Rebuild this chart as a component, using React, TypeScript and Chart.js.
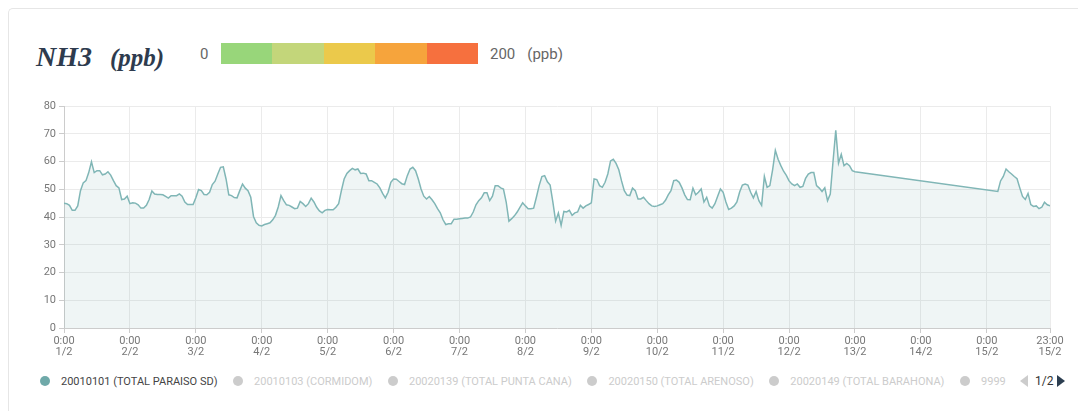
import React, { useEffect, useRef } from 'react';
import { Chart, registerables } from 'chart.js';
Chart.register(...registerables);

// Hourly NH3 values (ppb), hour index 0 = 1/2 0:00
const START_A = 0;
const VALUES_A = [
  45, 44.8, 44.2, 42.4, 42.4, 44, 49.5, 52.3, 53.1, 56, 59.9, 56, 56.7, 56.7, 55.2, 55.5, 56.3, 55.1, 53.1, 51.3, 50.5, 46.3, 46.5, 47.5,
  44.8, 45.1, 45, 44.4, 43.2, 43.2, 44.2, 46.3, 49.4, 48.3, 48.1, 48.1, 48, 47.4, 46.8, 47.7, 47.7, 47.7, 48.3, 47.5, 45.4, 44.5, 44.5, 44.5,
  46.9, 49.9, 49.5, 48.1, 48, 48.9, 51.7, 52.9, 55.5, 57.9, 58.1, 53.7, 48, 47.7, 47, 46.9, 49.5, 51.9, 50.4, 49.5, 47.1, 40.2, 37.9, 37,
  36.8, 37.3, 37.6, 37.9, 39, 40.6, 43.6, 47.7, 45.9, 44.4, 44.2, 43.6, 43, 43.2, 45.6, 44.8, 43.8, 44.8, 46.8, 45.4, 43.5, 42.2, 41.5, 42.4,
  42.7, 42.6, 42.6, 43.5, 44.8, 49.5, 53.7, 55.7, 56.7, 57.5, 57, 57.3, 55.7, 55.8, 55.5, 53.1, 53.1, 52.5, 51.9, 50.5, 48.5, 46.9, 48.9, 52.5,
  53.7, 53.6, 52.8, 52, 51.7, 54.9, 57.3, 57.9, 56.7, 53.7, 50.1, 47.5, 46.5, 47.4, 46.2, 44.8, 43, 41.5, 39, 37.3, 37.6, 37.6, 39.2, 39.2,
  39.4, 39.5, 39.6, 39.6, 40, 41.8, 44.4, 45.9, 46.9, 48.7, 48.7, 45.9, 47.5, 51.3, 51.3, 50.5, 50.1, 45.4, 38.5, 39.4, 40.4, 41.8, 43.5, 45.1,
  44, 43, 43, 43.2, 47.1, 51.3, 54.6, 54.9, 52.7, 51.5, 45.4, 38.5, 41.4, 37, 42, 41.8, 42.4, 40.6, 41.5, 41.8, 44.2, 43.2, 44, 44.5,
  45.1, 53.7, 53.5, 51.3, 50.7, 52.5, 55.5, 60.2, 60.8, 59.3, 57, 53, 49.5, 47.9, 47.7, 50.4, 49.5, 46.5, 46.5, 47.1, 45.9, 44.8, 44, 43.8,
  44, 44.4, 44.8, 46, 48, 49.5, 53.1, 53.3, 52.5, 50.5, 48, 46.3, 46.2, 50.4, 48, 48.9, 50.1, 45.4, 47.1, 44, 43.2, 44.8, 47.5, 50.1,
  48.9, 45.4, 42.7, 43.2, 44, 45.4, 49, 51.5, 51.9, 51.5, 48.9, 46.9, 49.2, 45.9, 44.2, 54.6, 50.7, 51.3, 57, 64, 60.8, 58.5, 56.5, 55,
  53, 51.9, 51.3, 51.9, 50.7, 51, 53.9, 55.5, 56, 56, 51.3, 50.4, 49.2, 50.5, 45.9, 48.3, 60, 71.2, 59.4, 62.6, 58.5, 59.3, 58.5, 56.7,
  56.3,
];
const START_B = 340;
const VALUES_B = [49.2, 53, 54.6, 57.3, 56.3, 55.5, 54.6, 53.8, 50.5, 47.4, 46.3, 48.5, 44.5, 43.8, 44, 43, 43.5, 45.3, 44.4, 44];

const X_MAX = 359;
const X_TICK_HOURS = [0, 24, 48, 72, 96, 120, 144, 168, 192, 216, 240, 264, 288, 312, 336, 359];
const X_TICK_LABELS = [
  ['0:00', '1/2'], ['0:00', '2/2'], ['0:00', '3/2'], ['0:00', '4/2'], ['0:00', '5/2'], ['0:00', '6/2'],
  ['0:00', '7/2'], ['0:00', '8/2'], ['0:00', '9/2'], ['0:00', '10/2'], ['0:00', '11/2'], ['0:00', '12/2'],
  ['0:00', '13/2'], ['0:00', '14/2'], ['0:00', '15/2'], ['23:00', '15/2'],
];
const Y_MIN = 0;
const Y_MAX = 80;
const Y_STEP = 10;

const SCALE_COLORS = ['#98d67a', '#c3d67a', '#ebc94b', '#f6a43c', '#f6703e'];
const SCALE_MIN = '0';
const SCALE_MAX = '200';
const UNIT = '(ppb)';
const TITLE = 'NH3';

const LEGEND_ITEMS = [
  '20010101 (TOTAL PARAISO SD)',
  '20010103 (CORMIDOM)',
  '20020139 (TOTAL PUNTA CANA)',
  '20020150 (TOTAL ARENOSO)',
  '20020149 (TOTAL BARAHONA)',
  '9999',
];
const LEGEND_ACTIVE = [true, false, false, false, false, false];
const PAGE_LABEL = '1/2';

const LINE_COLOR = '#80b6b6';
const FILL_COLOR = 'rgba(110,168,168,0.11)';

export default function App() {
  const ref = useRef<HTMLCanvasElement | null>(null);

  useEffect(() => {
    if (!ref.current) return;
    const points = [
      ...VALUES_A.map((v, i) => ({ x: START_A + i, y: v })),
      ...VALUES_B.map((v, i) => ({ x: START_B + i, y: v })),
    ];
    const chart = new Chart(ref.current, {
      type: 'line',
      data: {
        datasets: [
          {
            label: LEGEND_ITEMS[0],
            data: points,
            borderColor: LINE_COLOR,
            backgroundColor: FILL_COLOR,
            borderWidth: 1.5,
            fill: 'start',
            pointRadius: 0,
            tension: 0,
          },
        ],
      },
      options: {
        animation: false,
        responsive: false,
        maintainAspectRatio: false,
        layout: { padding: { top: 11, right: 27, left: 0, bottom: 0 } },
        plugins: { legend: { display: false }, tooltip: { enabled: false } },
        scales: {
          x: {
            type: 'linear',
            min: 0,
            max: X_MAX,
            afterBuildTicks: (s: any) => {
              s.ticks = X_TICK_HOURS.map((value) => ({ value }));
            },
            afterFit: (s: any) => {
              s.height = 37;
            },
            ticks: {
              autoSkip: false,
              maxRotation: 0,
              padding: 3,
              color: '#777',
              font: { family: 'Roboto', size: 11, lineHeight: 1 },
              callback: (v: any) => {
                const i = X_TICK_HOURS.indexOf(Number(v));
                return i >= 0 ? X_TICK_LABELS[i] : '';
              },
            },
            grid: { color: '#ebebeb', tickColor: '#cccccc', tickLength: 5 },
            border: { color: '#cccccc' },
          },
          y: {
            min: Y_MIN,
            max: Y_MAX,
            afterFit: (s: any) => {
              s.width = 55;
            },
            ticks: {
              stepSize: Y_STEP,
              padding: 3,
              color: '#777',
              font: { family: 'Roboto', size: 11 },
            },
            grid: { color: '#ebebeb', tickColor: '#cccccc', tickLength: 5 },
            border: { color: '#cccccc' },
          },
        },
      },
    });
    return () => chart.destroy();
  }, []);

  const sans = 'Roboto, sans-serif';
  return (
    <div
      style={{
        position: 'relative',
        width: 1078,
        height: 403,
        boxSizing: 'border-box',
        borderTop: '1px solid #e6e6e6',
        borderLeft: '1px solid #e6e6e6',
        borderTopLeftRadius: 5,
        background: '#fff',
        fontFamily: sans,
        overflow: 'hidden',
      }}
    >
      <div
        style={{
          position: 'absolute',
          left: 27,
          top: 33,
          height: 30,
          lineHeight: '30px',
          fontFamily: '"Liberation Serif", serif',
          fontWeight: 'bold',
          fontStyle: 'italic',
          color: '#2e3b4e',
          whiteSpace: 'nowrap',
        }}
      >
        <span style={{ fontSize: 28 }}>{TITLE}</span>
        <span style={{ fontSize: 25, marginLeft: 18 }}>{UNIT}</span>
      </div>
      <div style={{ position: 'absolute', left: 191, top: 35, lineHeight: '21px', fontSize: 15, color: '#666' }}>
        {SCALE_MIN}
      </div>
      <div style={{ position: 'absolute', left: 212, top: 34, height: 21, display: 'flex' }}>
        {SCALE_COLORS.map((c, i) => (
          <div key={i} style={{ width: 51.4, height: 21, background: c }} />
        ))}
      </div>
      <div
        style={{ position: 'absolute', left: 481, top: 35, lineHeight: '21px', fontSize: 15, color: '#666', whiteSpace: 'nowrap' }}
      >
        {SCALE_MAX}
        <span style={{ marginLeft: 12 }}>{UNIT}</span>
      </div>

      <canvas
        ref={ref}
        width={1068}
        height={270}
        style={{ position: 'absolute', left: 0, top: 86, width: 1068, height: 270 }}
      />

      <div
        style={{
          position: 'absolute',
          left: 31,
          top: 365,
          height: 14,
          display: 'flex',
          alignItems: 'center',
          fontSize: 11,
          whiteSpace: 'nowrap',
        }}
      >
        {LEGEND_ITEMS.map((t, i) => (
          <div key={i} style={{ display: 'flex', alignItems: 'center', marginRight: 15.6 }}>
            <div
              style={{
                width: 10,
                height: 10,
                borderRadius: 5,
                background: LEGEND_ACTIVE[i] ? '#6fa9a9' : '#cccccc',
                marginRight: 11,
              }}
            />
            <span style={{ color: LEGEND_ACTIVE[i] ? '#444' : '#cccccc' }}>{t}</span>
          </div>
        ))}
      </div>
      <div style={{ position: 'absolute', left: 1011, top: 365, height: 14, display: 'flex', alignItems: 'center' }}>
        <div
          style={{
            width: 0,
            height: 0,
            borderTop: '6.5px solid transparent',
            borderBottom: '6.5px solid transparent',
            borderRight: '8px solid #cccccc',
          }}
        />
        <span style={{ fontSize: 12, color: '#333', margin: '0 4px 0 7px' }}>{PAGE_LABEL}</span>
        <div
          style={{
            width: 0,
            height: 0,
            borderTop: '6.5px solid transparent',
            borderBottom: '6.5px solid transparent',
            borderLeft: '8px solid #2c3e50',
          }}
        />
      </div>
    </div>
  );
}
